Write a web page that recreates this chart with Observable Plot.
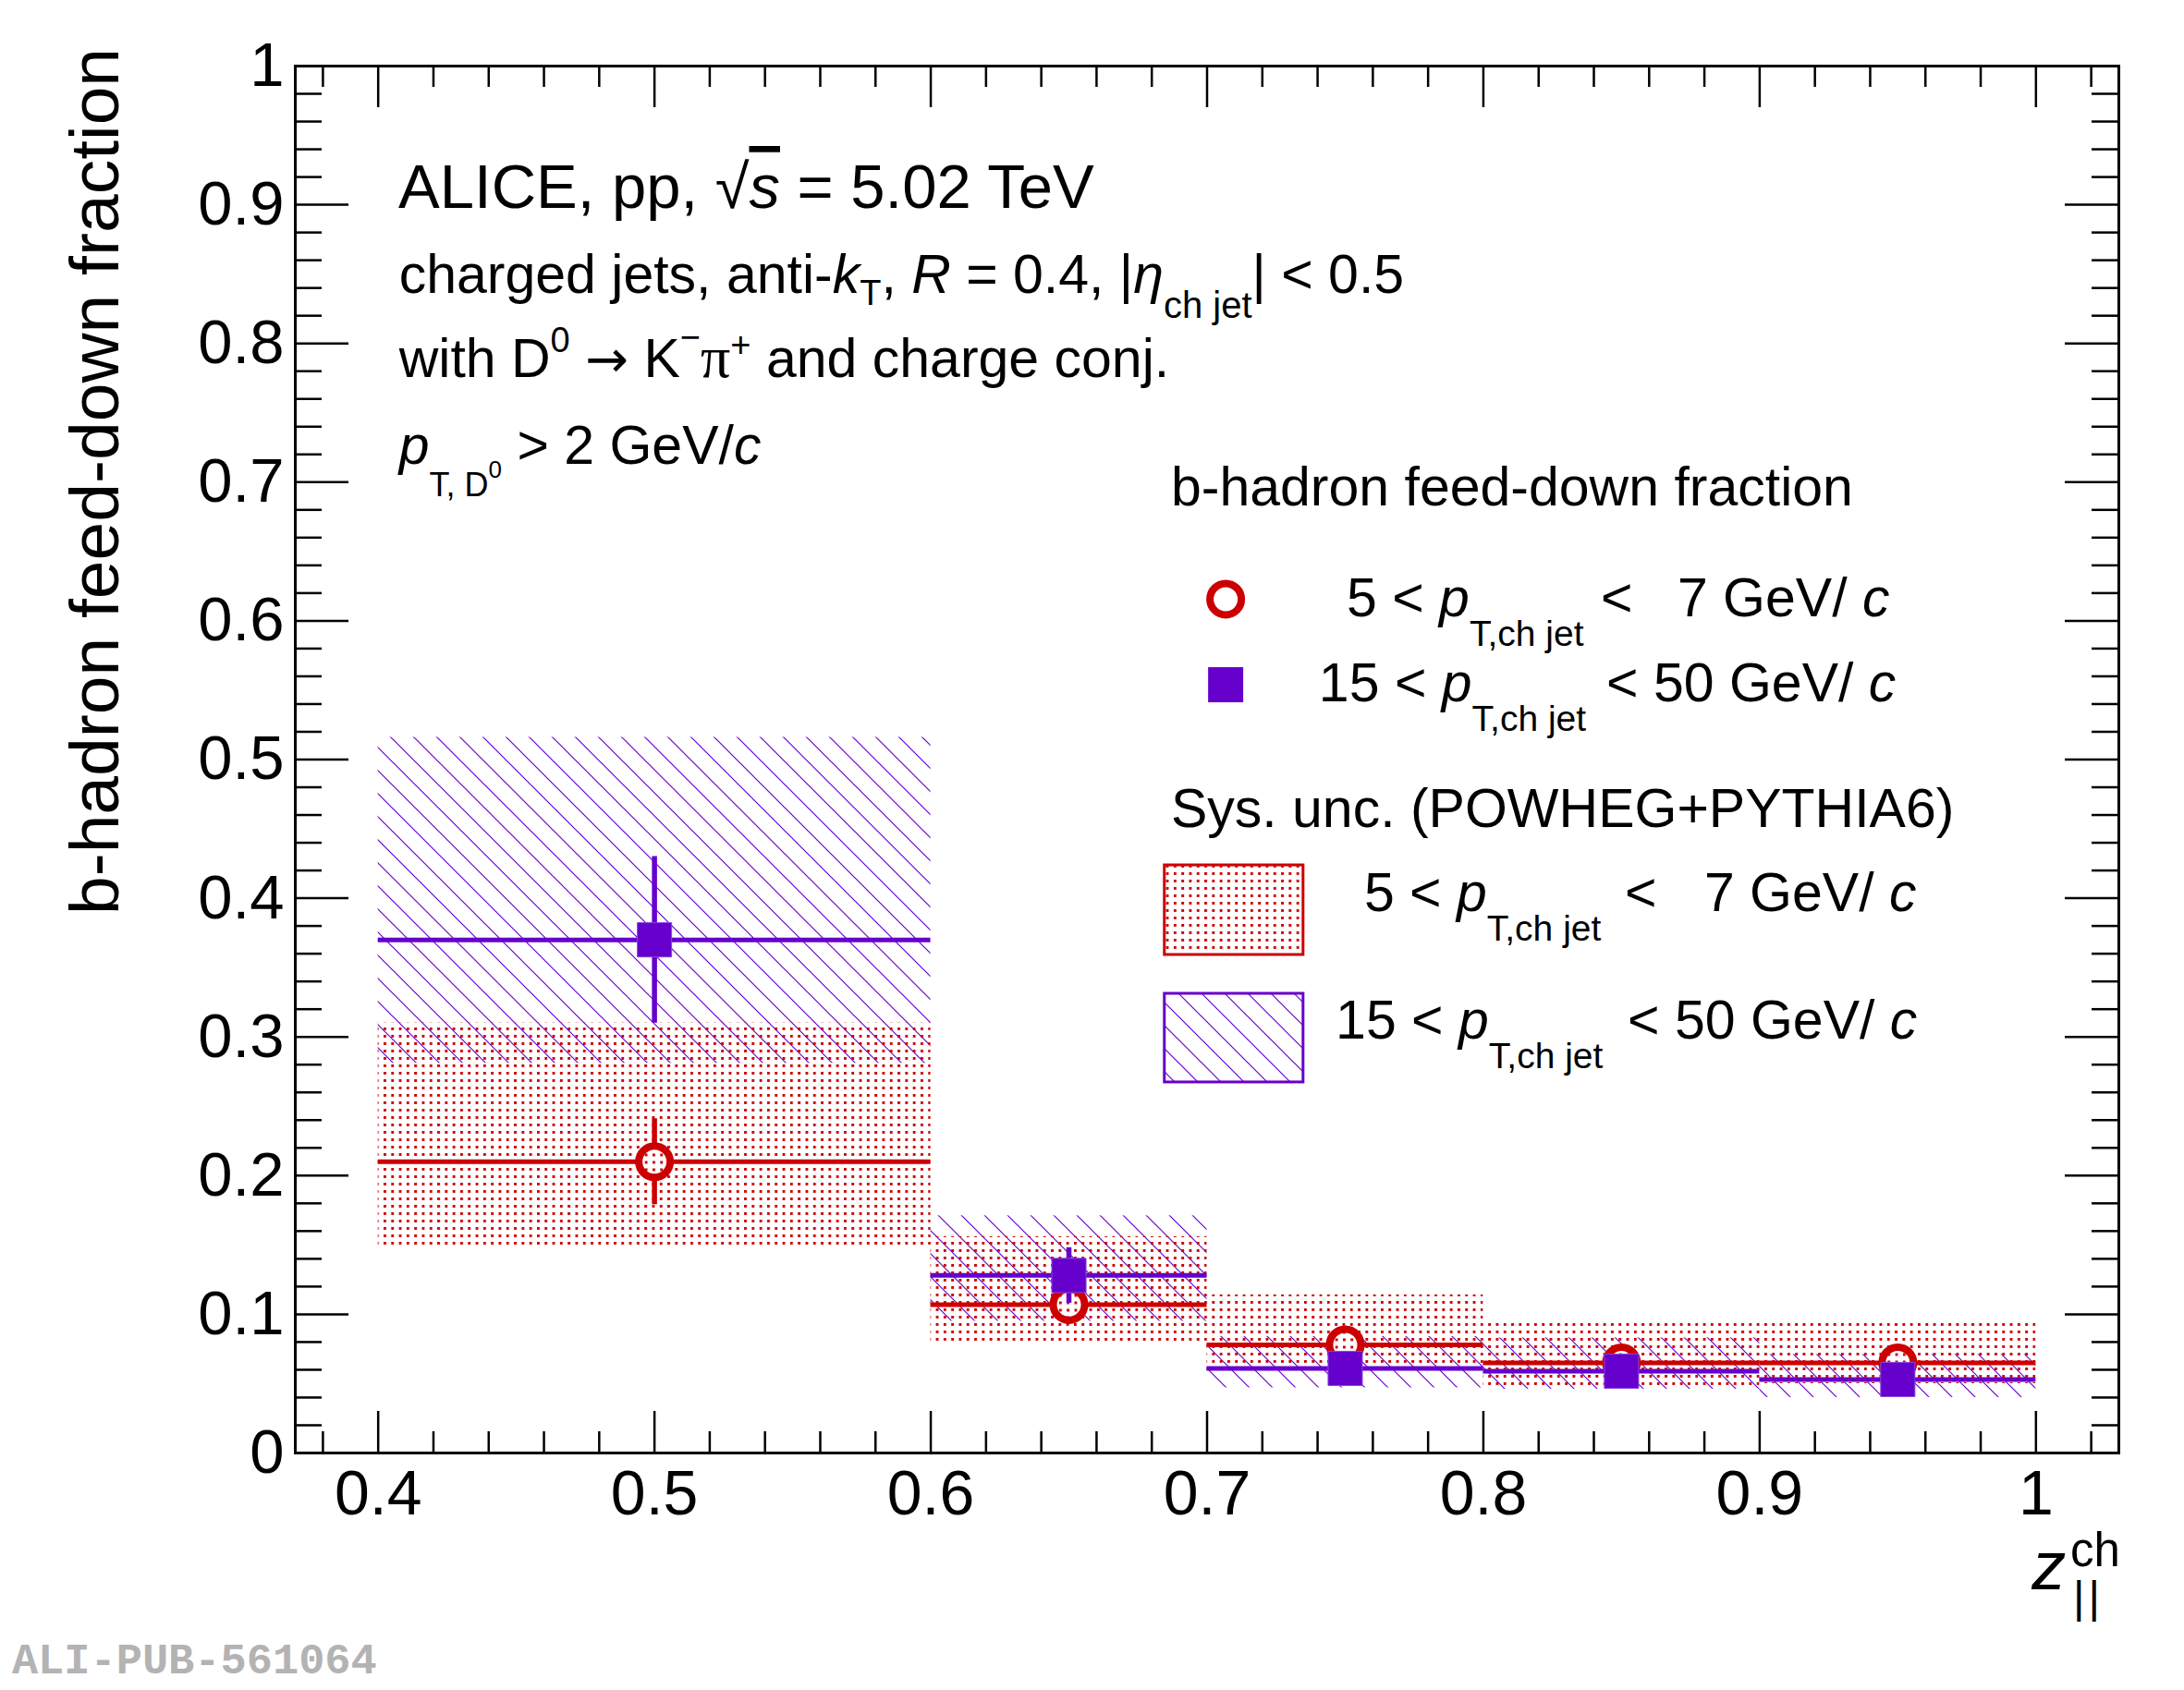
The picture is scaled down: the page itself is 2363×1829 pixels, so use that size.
<!DOCTYPE html>
<html>
<head>
<meta charset="utf-8">
<script src="https://cdn.jsdelivr.net/npm/d3@7"></script>
<script src="https://cdn.jsdelivr.net/npm/@observablehq/plot@0.6"></script>
<style>
  html, body { margin: 0; padding: 0; background: #fff; }
  #chart { width: 2363px; height: 1829px; }
</style>
</head>
<body>
<div id="chart"></div>
<script>
// ---------------- data ----------------
const binLow    = [0.4, 0.6, 0.7, 0.8, 0.9];
const binHigh   = [0.6, 0.7, 0.8, 0.9, 1.0];
const binCenter = [0.5, 0.65, 0.75, 0.85, 0.95];

// 5 < pT,ch jet < 7 GeV/c
const lowPtValue   = [0.210, 0.107, 0.078, 0.065, 0.065];
const lowPtStatErr = [0.031, 0.008, 0.006, 0.005, 0.005];
const lowPtSysLow  = [0.149, 0.078, 0.056, 0.048, 0.050];
const lowPtSysHigh = [0.310, 0.156, 0.114, 0.095, 0.094];

// 15 < pT,ch jet < 50 GeV/c
const highPtValue   = [0.370, 0.128, 0.061, 0.059, 0.053];
const highPtStatErr = [0.060, 0.020, 0.006, 0.005, 0.005];
const highPtSysLow  = [0.281, 0.095, 0.047, 0.046, 0.040];
const highPtSysHigh = [0.516, 0.171, 0.084, 0.083, 0.071];

// axes
const xTickValues = [0.4, 0.5, 0.6, 0.7, 0.8, 0.9, 1.0];
const xTickLabels = ["0.4", "0.5", "0.6", "0.7", "0.8", "0.9", "1"];
const yTickValues = [0, 0.1, 0.2, 0.3, 0.4, 0.5, 0.6, 0.7, 0.8, 0.9, 1.0];
const yTickLabels = ["0", "0.1", "0.2", "0.3", "0.4", "0.5", "0.6", "0.7", "0.8", "0.9", "1"];
const xMinorTicks = d3.range(19, 52).map(k => k / 50).filter(v => Math.abs(v * 10 - Math.round(v * 10)) > 1e-6);
const yMinorTicks = d3.range(1, 50).map(k => k / 50).filter(v => Math.abs(v * 10 - Math.round(v * 10)) > 1e-6);

// ---------------- layout ----------------
const width = 2363, height = 1829;
const mL = 319, mR = 71, mT = 71, mB = 257;
const FW = width - mL - mR, FH = height - mT - mB;
const red = "#cc0000", violet = "#6600cc";
const font = "'Liberation Sans', Arial, Helvetica, sans-serif";
const idx = d3.range(binLow.length);

const chart = Plot.plot({
  width, height,
  marginLeft: mL, marginRight: mR, marginTop: mT, marginBottom: mB,
  x: {domain: [0.37, 1.03], axis: null},
  y: {domain: [0, 1], axis: null},
  style: {fontFamily: font, fontSize: "58px", color: "black", background: "white"},
  marks: [
    // systematic boxes
    Plot.rect(idx, {x1: i => binLow[i], x2: i => binHigh[i], y1: i => highPtSysLow[i], y2: i => highPtSysHigh[i], fill: "url(#hatchViolet)"}),
    Plot.rect(idx, {x1: i => binLow[i], x2: i => binHigh[i], y1: i => lowPtSysLow[i], y2: i => lowPtSysHigh[i], fill: "url(#dotsRed)"}),
    // low pT series
    Plot.ruleY(idx, {y: i => lowPtValue[i], x1: i => binLow[i], x2: i => binHigh[i], stroke: red, strokeWidth: 5}),
    Plot.ruleX(idx, {x: i => binCenter[i], y1: i => lowPtValue[i] - lowPtStatErr[i], y2: i => lowPtValue[i] + lowPtStatErr[i], stroke: red, strokeWidth: 5.5}),
    Plot.dot(idx, {x: i => binCenter[i], y: i => lowPtValue[i], r: 17, stroke: red, strokeWidth: 8, fill: "url(#dotsRedWhite)"}),
    // high pT series
    Plot.ruleY(idx, {y: i => highPtValue[i], x1: i => binLow[i], x2: i => binHigh[i], stroke: violet, strokeWidth: 5}),
    Plot.ruleX(idx, {x: i => binCenter[i], y1: i => highPtValue[i] - highPtStatErr[i], y2: i => highPtValue[i] + highPtStatErr[i], stroke: violet, strokeWidth: 5.5}),
    Plot.dot(idx, {x: i => binCenter[i], y: i => highPtValue[i], symbol: "square", r: 20.9, fill: violet, stroke: "#8a44dd", strokeWidth: 1}),
    // ticks (bottom / top)
    Plot.ruleX(xTickValues, {x: d => d, insetTop: FH - 45, stroke: "black", strokeWidth: 2.5}),
    Plot.ruleX(xMinorTicks, {x: d => d, insetTop: FH - 23, stroke: "black", strokeWidth: 2.5}),
    Plot.ruleX(xTickValues, {x: d => d, insetBottom: FH - 45, stroke: "black", strokeWidth: 2.5}),
    Plot.ruleX(xMinorTicks, {x: d => d, insetBottom: FH - 23, stroke: "black", strokeWidth: 2.5}),
    // ticks (left / right)
    Plot.ruleY(yTickValues, {y: d => d, insetRight: FW - 58, stroke: "black", strokeWidth: 2.5}),
    Plot.ruleY(yMinorTicks, {y: d => d, insetRight: FW - 29, stroke: "black", strokeWidth: 2.5}),
    Plot.ruleY(yTickValues, {y: d => d, insetLeft: FW - 58, stroke: "black", strokeWidth: 2.5}),
    Plot.ruleY(yMinorTicks, {y: d => d, insetLeft: FW - 29, stroke: "black", strokeWidth: 2.5}),
    Plot.frame({stroke: "black", strokeWidth: 3}),
    // tick labels
    Plot.text(xTickValues, {x: d => d, text: (d, i) => xTickLabels[i], frameAnchor: "bottom", lineAnchor: "top", dy: 18, fontSize: 68, fill: "black"}),
    Plot.text(yTickValues, {y: d => d, text: (d, i) => yTickLabels[i], frameAnchor: "left", textAnchor: "end", dx: -12, fontSize: 67, fill: "black"})
  ]
});
document.getElementById("chart").appendChild(chart);

// ---------------- patterns ----------------
const svg = d3.select(chart);
svg.insert("defs", ":first-child").html(`
  <pattern id="dotsRed" patternUnits="userSpaceOnUse" width="8.3" height="8">
    <rect x="0" y="0" width="2.9" height="2.9" fill="${red}"/>
  </pattern>
  <pattern id="dotsRedWhite" patternUnits="userSpaceOnUse" width="8.3" height="8">
    <rect x="0" y="0" width="8.3" height="8" fill="white"/>
    <rect x="0" y="0" width="2.9" height="2.9" fill="${red}"/>
  </pattern>
  <pattern id="hatchViolet" patternUnits="userSpaceOnUse" width="25" height="25">
    <path d="M0,0L25,25M-5,20L5,30M20,-5L30,5" stroke="${violet}" stroke-width="1.2" fill="none"/>
  </pattern>
`);

// ---------------- annotations (placed through the plot's scales) ----------------
const sx = chart.scale("x"), sy = chart.scale("y");
const fx = sx.apply ? (v => sx.apply(v)) : d3.scaleLinear(sx.domain, sx.range);
const fy = sy.apply ? (v => sy.apply(v)) : d3.scaleLinear(sy.domain, sy.range);
const g = svg.append("g").attr("font-family", font).attr("fill", "black")
  .attr("text-anchor", "start").style("white-space", "pre");

function rich(xv, yv, parts, size) {
  const x0 = fx(xv), y0 = fy(yv);
  const t = g.append("text").attr("x", x0).attr("y", y0).attr("font-size", size).attr("text-anchor", "start");
  for (const p of parts) {
    const s = t.append("tspan").text(p.t).attr("y", y0 + (p.shift || 0)).attr("font-size", p.size || size);
    if (p.at != null) s.attr("x", fx(p.at));
    if (p.dx) s.attr("dx", p.dx);
    if (p.it) s.attr("font-style", "italic");
    if (p.deco) s.attr("text-decoration", p.deco);
    if (p.ls) s.attr("letter-spacing", p.ls);
    if (p.ff) s.attr("font-family", p.ff);
  }
  return t;
}

// header block
rich(0.4075, 0.8974, [{t: "ALICE, pp, "}, {t: "√"}, {t: "s", it: true, deco: "overline"}, {t: " = 5.02 TeV"}], 67);
rich(0.4077, 0.8361, [
  {t: "charged jets, anti-"}, {t: "k", it: true}, {t: "T", size: 38, shift: 13},
  {t: ", "}, {t: "R", it: true}, {t: " = 0.4, |"}, {t: "η", it: true},
  {t: "ch jet", size: 40, shift: 27}, {t: "| < 0.5"}
], 59);
rich(0.4077, 0.7755, [
  {t: "with D"}, {t: "0", size: 38, shift: -27}, {t: " "}, {t: "→", ff: "'DejaVu Sans', sans-serif", size: 56},
  {t: " K"}, {t: "−", size: 38, shift: -30},
  {t: "π", ff: "'Liberation Serif', 'DejaVu Serif', serif", size: 64}, {t: "+", size: 38, shift: -22}, {t: " and charge conj."}
], 59);
rich(0.4077, 0.7129, [
  {t: "p", it: true}, {t: "T, D", size: 36, shift: 35}, {t: "0", size: 26, shift: 15},
  {t: " > 2 GeV/"}, {t: "c", it: true}
], 59);

// legend
rich(0.6871, 0.6829, [{t: "b-hadron feed-down fraction"}], 59);
g.append("circle").attr("cx", fx(0.7069)).attr("cy", fy(0.6153)).attr("r", 17)
  .attr("fill", "none").attr("stroke", red).attr("stroke-width", 8);
rich(0.7507, 0.6029, [
  {t: "5 < "}, {t: "p", it: true}, {t: "T,ch jet", size: 39, shift: 32},
  {t: "<", at: 0.8427}, {t: "7 GeV/", at: 0.8704}, {t: " c", it: true}
], 59);
g.append("rect").attr("x", fx(0.7069) - 19).attr("y", fy(0.5536) - 19).attr("width", 38).attr("height", 38)
  .attr("fill", violet);
rich(0.7406, 0.5416, [
  {t: "15 < "}, {t: "p", it: true}, {t: "T,ch jet", size: 39, shift: 32},
  {t: "< 50 GeV/", at: 0.8447}, {t: " c", it: true}
], 59);
rich(0.6871, 0.4507, [{t: "Sys. unc. (POWHEG+PYTHIA6)"}], 59);
g.append("rect").attr("x", fx(0.6847)).attr("y", fy(0.4237))
  .attr("width", fx(0.7349) - fx(0.6847)).attr("height", fy(0.3591) - fy(0.4237))
  .attr("fill", "url(#dotsRed)").attr("stroke", red).attr("stroke-width", 3);
rich(0.7570, 0.3904, [
  {t: "5 < "}, {t: "p", it: true}, {t: "T,ch jet", size: 39, shift: 32},
  {t: "<", at: 0.8514}, {t: "7 GeV/", at: 0.8801}, {t: " c", it: true}
], 59);
g.append("rect").attr("x", fx(0.6847)).attr("y", fy(0.3311))
  .attr("width", fx(0.7349) - fx(0.6847)).attr("height", fy(0.2672) - fy(0.3311))
  .attr("fill", "url(#hatchViolet)").attr("stroke", violet).attr("stroke-width", 3);
rich(0.7467, 0.2985, [
  {t: "15 < "}, {t: "p", it: true}, {t: "T,ch jet", size: 39, shift: 32},
  {t: "< 50 GeV/", at: 0.8524}, {t: " c", it: true}
], 59);

// axis titles
g.append("text").attr("transform", `translate(${fx(0.3061)},${fy(1.0127)}) rotate(-90)`)
  .attr("text-anchor", "end").attr("font-size", 75).text("b-hadron feed-down fraction");
rich(0.9986, -0.0986, [
  {t: "z", it: true}, {t: "ch", size: 51, shift: -25, at: 1.0126}, {t: "||", size: 48, shift: 25, at: 1.0136, ls: 4}
], 74);

// publication id
g.append("text").attr("x", fx(0.2676)).attr("y", fy(-0.1595)).attr("text-anchor", "start")
  .attr("font-family", "'Liberation Mono', 'DejaVu Sans Mono', monospace").attr("font-weight", "bold")
  .attr("font-size", 47).attr("fill", "#b3b3b3").text("ALI-PUB-561064");
</script>
</body>
</html>
